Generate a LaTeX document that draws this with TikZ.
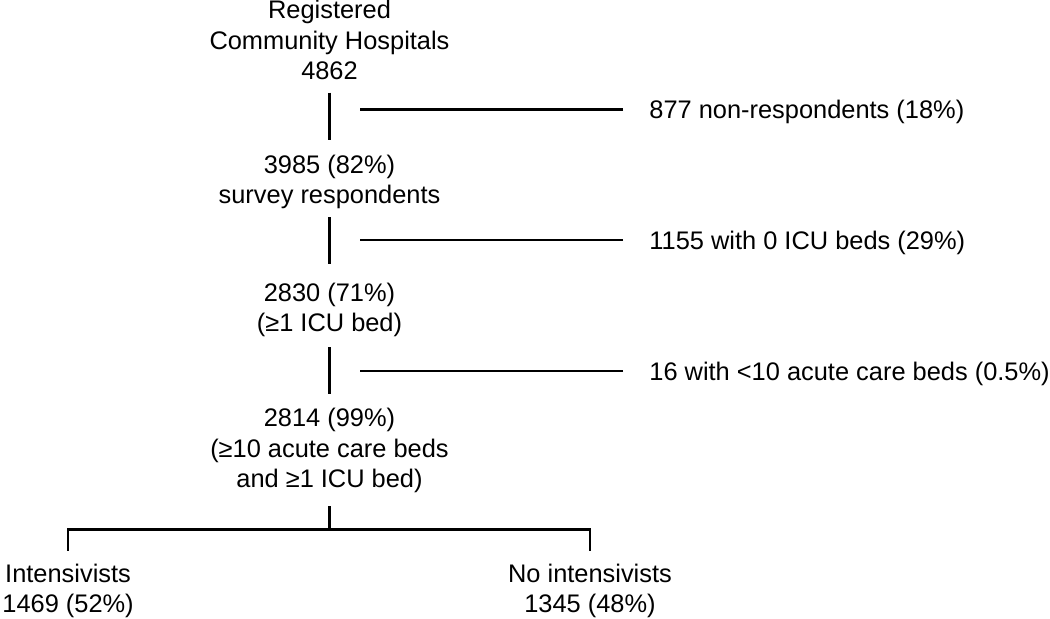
\documentclass[tikz,border=0pt]{standalone}
\usepackage{fontspec}
\setmainfont{Liberation Sans}
\usepackage{tikz}
\usetikzlibrary{calc}
\tikzset{
  fstep/.style={align=center,inner sep=0pt,anchor=base},
  fexcl/.style={align=left,inner xsep=13pt,inner ysep=0pt,anchor=base west},
  flink/.style={line width=1.4pt,draw=black}
}

\begin{document}
\begin{tikzpicture}[x=0.5pt,y=-0.5pt,font=\fontsize{12.7}{15.25}\selectfont]
  \useasboundingbox (0,0) rectangle (1050,619);
  \node[fstep] (reg) at (329.5,80) {Registered\\Community Hospitals\\4862};
  \node[fstep] (resp) at (329.5,204) {3985 (82\%)\\survey respondents};
  \node[fstep] (icu) at (329.5,332) {2830 (71\%)\\(≥1 ICU bed)};
  \node[fstep] (crit) at (329.5,488) {2814 (99\%)\\(≥10 acute care beds\\and ≥1 ICU bed)};
  \node[fexcl] (excl1) at (623,119) {877 non-respondents (18\%)};
  \node[fexcl] (excl2) at (623,249.5) {1155 with 0 ICU beds (29\%)};
  \node[fexcl] (excl3) at (623,380.5) {16 with <10 acute care beds (0.5\%)};
  \node[fstep,anchor=base west] (ints) at (2,613) {Intensivists\\1469 (52\%)};
  \node[fstep] (noint) at (590,613) {No intensivists\\1345 (48\%)};
  % main column
  \draw[flink] ([yshift=-6pt]reg.south) -- ([yshift=7.25pt]resp.north);
  \draw[flink] ([yshift=-3.85pt]resp.south) -- ([yshift=9.25pt]icu.north);
  \draw[flink] ([yshift=-4.85pt]icu.south) -- ([yshift=7.25pt]crit.north);
  \draw[flink] ([yshift=-6.35pt]crit.south) -- ([yshift=-17.85pt]crit.south) coordinate (split);
  \draw[flink] ([yshift=6.4pt]ints.north) |- (split) -| ([yshift=6.4pt]noint.north);
  % exclusions
  \foreach \nm in {excl1,excl2,excl3}
    \draw[flink] (\nm.base west) ++(0,-9.5) -- ++(-263,0);
\end{tikzpicture}
\end{document}
